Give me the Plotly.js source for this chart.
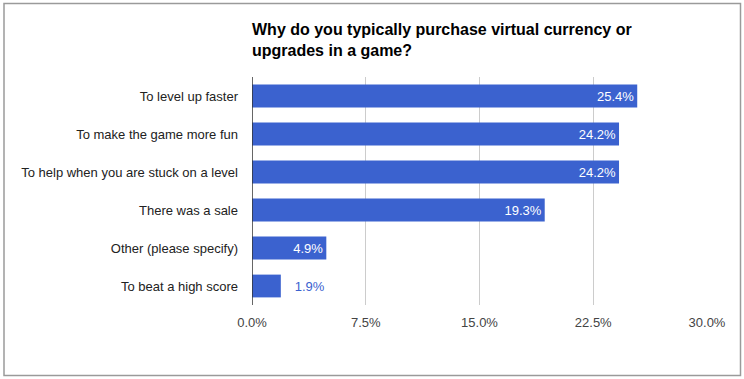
<!DOCTYPE html>
<html>
<head>
<meta charset="utf-8">
<script src="https://cdn.plot.ly/plotly-3.0.1.min.js"></script>
<style>html,body{margin:0;padding:0;background:#fff;}#chart{width:744px;height:379px;}</style>
</head>
<body>
<div id="chart"></div>
<script>
const categories = ["To level up faster", "To make the game more fun", "To help when you are stuck on a level", "There was a sale", "Other (please specify)", "To beat a high score"];
const percents = [25.4, 24.2, 24.2, 19.3, 4.9, 1.9];
const tickValues = [0, 7.5, 15, 22.5, 30];
const tickLabels = ["0.0%", "7.5%", "15.0%", "22.5%", "30.0%"];
const titleText = "Why do you typically purchase virtual currency or<br>upgrades in a game?";

const barColor = "#3b62cf";
const insideThreshold = 3;
const positions = percents.map(v => v > insideThreshold ? "inside" : "outside");
const textColors = percents.map(v => v > insideThreshold ? "#ffffff" : barColor);
const templates = percents.map(v => v > insideThreshold ? "%{x:.1f}%" : "\u00a0\u00a0\u00a0%{x:.1f}%");

const trace = {
  type: "bar",
  orientation: "h",
  y: categories,
  x: percents,
  marker: {color: barColor},
  width: 0.6,
  texttemplate: templates,
  textposition: positions,
  insidetextanchor: "end",
  constraintext: "none",
  cliponaxis: false,
  textfont: {family: "Liberation Sans, Arial, sans-serif", size: 13, color: textColors},
  hoverinfo: "none"
};

const layout = {
  width: 744,
  height: 379,
  margin: {l: 252, r: 37, t: 77, b: 74, pad: 0},
  paper_bgcolor: "#ffffff",
  plot_bgcolor: "#ffffff",
  showlegend: false,
  font: {family: "Liberation Sans, Arial, sans-serif", size: 13, color: "#222222"},
  title: {
    text: titleText,
    x: 252/744, xref: "container", xanchor: "left",
    y: 1 - 35/379, yref: "container", yanchor: "top",
    font: {family: "Liberation Sans, Arial, sans-serif", size: 16, color: "#000000", weight: "bold"}
  },
  xaxis: {
    range: [0, 30],
    tickvals: tickValues,
    ticktext: tickLabels,
    showgrid: true,
    gridcolor: "#cccccc",
    gridwidth: 1,
    zeroline: false,
    showline: false,
    ticks: "",
    ticklabelstandoff: 8,
    tickfont: {size: 13, color: "#444444"},
    fixedrange: true
  },
  yaxis: {
    autorange: "reversed",
    showgrid: false,
    zeroline: false,
    showline: false,
    ticks: "",
    ticklabelstandoff: 13,
    tickfont: {size: 13, color: "#222222"},
    fixedrange: true
  },
  shapes: [
    {type: "rect", xref: "paper", yref: "paper", x0: -248/455, x1: 1 + 33.5/455, y0: -70.5/228, y1: 1 + 73.5/228,
     line: {color: "#9a9a9a", width: 1.5}, fillcolor: "rgba(0,0,0,0)", layer: "below"},
    {type: "line", xref: "x", yref: "paper", x0: 0, x1: 0, y0: 0, y1: 1,
     line: {color: "#333333", width: 1.5}, layer: "above"}
  ]
};

Plotly.newPlot("chart", [trace], layout, {displayModeBar: false, staticPlot: true});
</script>
</body>
</html>
